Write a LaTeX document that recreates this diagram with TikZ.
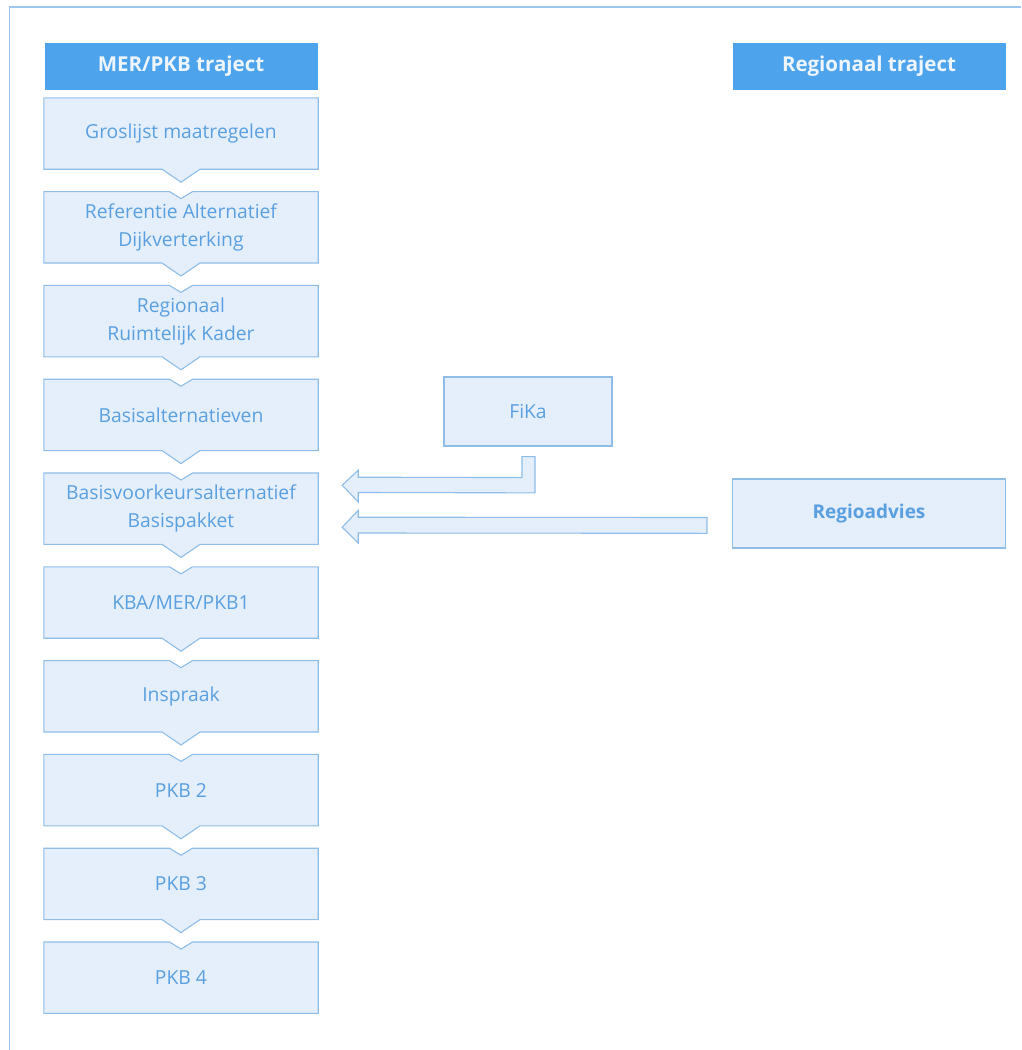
\documentclass[tikz,border=0pt]{standalone}
\usepackage{fontspec}
\setmainfont{Open Sans}
\usetikzlibrary{calc}
\definecolor{hdrfill}{HTML}{4DA3EC}
\definecolor{hdrtext}{HTML}{EEF5FC}
\definecolor{boxfill}{HTML}{E4EFFB}
\definecolor{boxline}{HTML}{8EBDE8}
\definecolor{boxtext}{HTML}{5A9FE0}
\definecolor{frameline}{HTML}{9CC6EC}
\tikzset{
  hdr/.style={fill=hdrfill, text=hdrtext, font=\fontsize{20.5}{24}\selectfont\bfseries, minimum width=273pt, minimum height=47pt, inner sep=0pt},
  boxlabel/.style={text=boxtext, font=\fontsize{19.3}{28}\selectfont, align=center, minimum width=274pt, minimum height=71pt, inner sep=0pt},
  boxshape/.style={fill=boxfill, draw=boxline, line width=1.1pt, line join=miter},
  blockarrow/.style={fill=boxfill, draw=boxline, line width=1.1pt, line join=miter},
}
\begin{document}
\begin{tikzpicture}[x=1pt,y=-1pt]
\useasboundingbox (0,0) rectangle (1021,1050);
% outer frame
\draw[frameline, line width=1.2pt] (9.5,1050) -- (9.5,7) -- (1021,7);
% headers
\node[hdr] (h1) at (181,66.5) {MER/PKB traject};
\node[hdr] (h2) at (869,66.5) {Regionaal traject};
% column box anchors
\foreach \i in {1,...,10}{
  \pgfmathsetmacro{\cy}{98+93.8*(\i-1)+35.5}
  \node[boxlabel] (b\i) at (181,\cy) {};
}
\foreach \i in {1,...,10}{
  \ifnum\i=1
    \def\toppart{(b\i.north west) -- (b\i.north east)}
  \else
    \def\toppart{(b\i.north west) -- ($(b\i.north)+(-11.5,0)$) -- ($(b\i.north)+(0,7)$) -- ($(b\i.north)+(11.5,0)$) -- (b\i.north east)}
  \fi
  \ifnum\i=10
    \def\botpart{(b\i.south east) -- (b\i.south west)}
  \else
    \def\botpart{(b\i.south east) -- ($(b\i.south)+(19,0)$) -- ($(b\i.south)+(0,13)$) -- ($(b\i.south)+(-19,0)$) -- (b\i.south west)}
  \fi
  \draw[boxshape] \toppart -- \botpart -- cycle;
}
% labels on top of shapes
\node[boxlabel] at (b1) {Groslijst maatregelen};
\node[boxlabel] at (b2) {Referentie Alternatief\\Dijkverterking};
\node[boxlabel] at (b3) {Regionaal\\Ruimtelijk Kader};
\node[boxlabel] at (b4) {Basisalternatieven};
\node[boxlabel] at (b5) {Basisvoorkeursalternatief\\Basispakket};
\node[boxlabel] at (b6) {KBA/MER/PKB1};
\node[boxlabel] at (b7) {Inspraak};
\node[boxlabel] at (b8) {PKB 2};
\node[boxlabel] at (b9) {PKB 3};
\node[boxlabel] at (b10) {PKB 4};
% side boxes
\node[boxshape, text=boxtext, font=\fontsize{19.3}{22}\selectfont, minimum width=168pt, minimum height=69pt, inner sep=0pt] (fika) at (528,411.5) {FiKa};
\node[boxshape, text=boxtext, font=\fontsize{19}{22}\selectfont\bfseries, minimum width=273pt, minimum height=69pt, inner sep=0pt] (regio) at (869,513.5) {Regioadvies};
% block arrows
\coordinate (ftip) at ($(b5.east)+(24,-23.5)$);
\coordinate (rtip) at ($(b5.east)+(24,18.5)$);
\draw[blockarrow] ($(fika.south)+(7,10)$) -- ($(fika.south)+(7,46.3)$)
  -- ($(ftip)+(16,7.3)$) -- ($(ftip)+(16,16.7)$) -- (ftip) -- ($(ftip)+(16,-15)$) -- ($(ftip)+(16,-8)$)
  -- ($(fika.south)+(-6,31)$) -- ($(fika.south)+(-6,10)$) -- cycle;
\draw[blockarrow] ($(regio.west)+(-25,4)$) -- ($(regio.west)+(-25,19.8)$) -- ($(rtip)+(16,5.8)$) -- ($(rtip)+(16,15.8)$) -- (rtip) -- ($(rtip)+(16,-16.8)$) -- ($(rtip)+(16,-10)$) -- cycle;
\end{tikzpicture}
\end{document}
